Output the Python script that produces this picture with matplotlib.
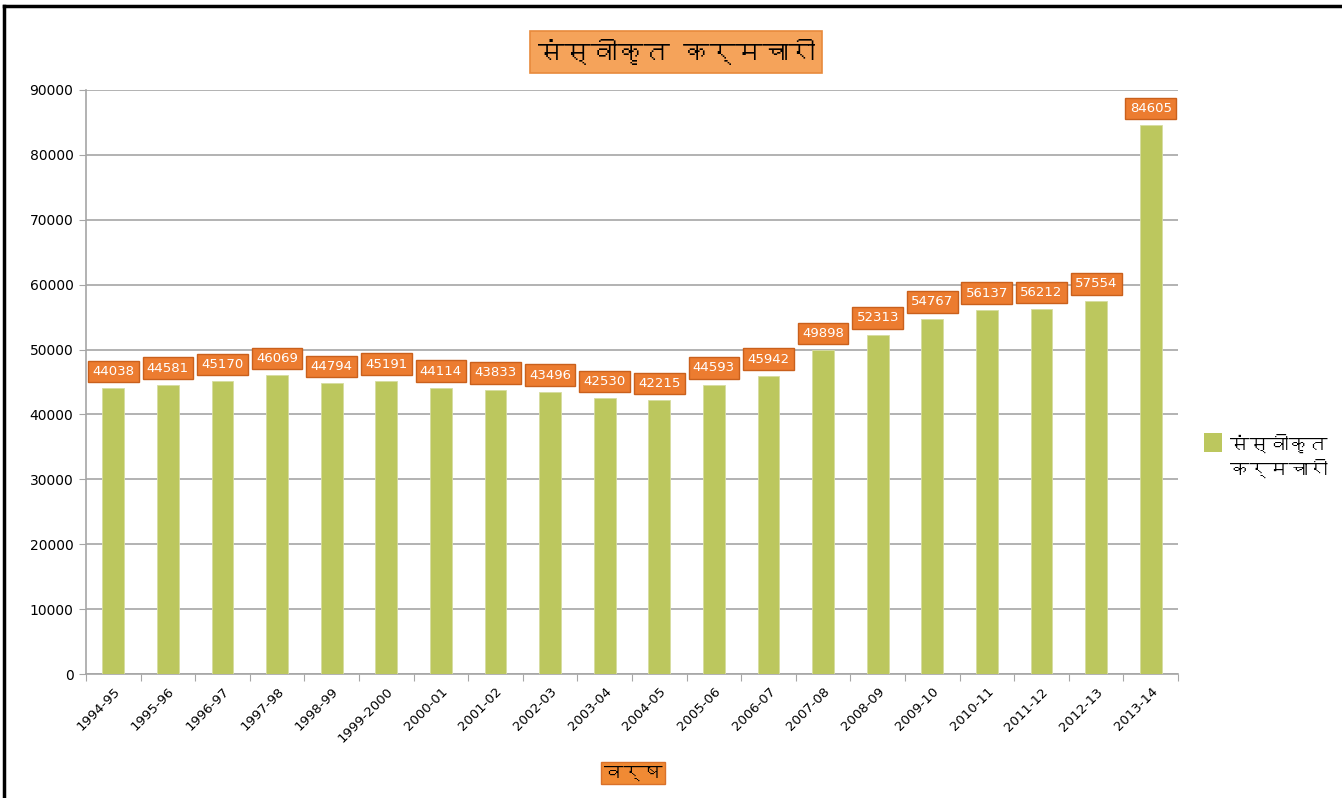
import numpy as np
import matplotlib
matplotlib.use("Agg")
import matplotlib.pyplot as plt
from matplotlib import font_manager, ft2font
from matplotlib.patches import Rectangle

years = ["1994-95", "1995-96", "1996-97", "1997-98", "1998-99", "1999-2000",
         "2000-01", "2001-02", "2002-03", "2003-04", "2004-05", "2005-06",
         "2006-07", "2007-08", "2008-09", "2009-10", "2010-11", "2011-12",
         "2012-13", "2013-14"]
employees = [44038, 44581, 45170, 46069, 44794, 45191, 44114, 43833, 43496,
             42530, 42215, 44593, 45942, 49898, 52313, 54767, 56137, 56212,
             57554, 84605]
y_ticks = [0, 10000, 20000, 30000, 40000, 50000, 60000, 70000, 80000, 90000]

title_text = "संस्वीकृत कर्मचारी"
xlabel_text = "वर्ष"
legend_text = "संस्वीकृत\nकर्मचारी"

BAR = "#BCC75E"
ORANGE = "#EC7C30"
ORANGE_EDGE = "#C9601C"
GRID = "#A6A6A6"


def find_deva():
    # pick any installed font that actually has Devanagari glyphs
    seen = set()
    for f in font_manager.fontManager.ttflist:
        if f.fname in seen:
            continue
        seen.add(f.fname)
        try:
            cm = ft2font.FT2Font(f.fname).get_charmap()
        except Exception:
            continue
        if 0x0915 in cm and 0x094D in cm:
            return f.name
    return None


deva = find_deva()
hindi_family = [deva, "DejaVu Sans"] if deva else ["DejaVu Sans"]

plt.rcParams["font.family"] = ["DejaVu Sans"]

fig = plt.figure(figsize=(13.42, 7.98), dpi=100)
ax = fig.add_axes([86 / 1342, 1 - 674 / 798, 1092 / 1342, 584 / 798])

x = np.arange(len(years))
ax.bar(x, employees, width=0.4, color=BAR, edgecolor="#D6DDA0", linewidth=0.6, zorder=3)

for xi, v in zip(x, employees):
    ax.annotate(str(v), (xi, v), xytext=(0, 12), textcoords="offset points",
                ha="center", va="center", color="white", fontsize=9.5,
                bbox=dict(boxstyle="square,pad=0.32", fc=ORANGE, ec=ORANGE_EDGE, lw=1),
                zorder=5)

ax.set_xlim(-0.5, len(years) - 0.5)
ax.set_ylim(0, 90000)
ax.set_yticks(y_ticks)
ax.set_yticklabels([str(t) for t in y_ticks], fontsize=10)
ax.set_xticks(np.arange(len(years) + 1) - 0.5, minor=False)
ax.set_xticklabels([])
ax.set_xticks(x, minor=True)
ax.set_xticklabels(years, minor=True, rotation=45, ha="right", rotation_mode="anchor", fontsize=9.5)
ax.tick_params(axis="x", which="major", length=5, color=GRID)
ax.tick_params(axis="x", which="minor", length=0, pad=8)
ax.tick_params(axis="y", length=5, color=GRID, pad=4)

ax.grid(axis="y", color=GRID, linewidth=1.2, zorder=0)
for s in ["top", "right"]:
    ax.spines[s].set_visible(False)
ax.spines["left"].set_color(GRID)
ax.spines["bottom"].set_color(GRID)
ax.spines["left"].set_linewidth(1.2)
ax.spines["bottom"].set_linewidth(1.2)

# title box
fig.text(676 / 1342, 1 - 52 / 798, title_text, ha="center", va="center",
         fontsize=19, fontweight="bold", family=hindi_family,
         bbox=dict(boxstyle="square,pad=0.3", fc="#F5A35A", ec="#E88A3C", lw=1.2))

# x axis label box
fig.text(633 / 1342, 1 - 773 / 798, xlabel_text, ha="center", va="center",
         fontsize=14, fontweight="bold", family=hindi_family,
         bbox=dict(boxstyle="square,pad=0.15", fc="#F08A34", ec="#D9712A", lw=1))

# legend
fig.patches.append(Rectangle((1204 / 1342, 1 - 452 / 798), 18 / 1342, 19 / 798,
                             transform=fig.transFigure, fc=BAR, ec="none"))
fig.text(1230 / 1342, 1 - 456 / 798, legend_text, ha="left", va="center",
         fontsize=14, family=hindi_family, linespacing=1.3)

# outer frame (left and top visible)
fig.add_artist(plt.Line2D([4 / 1342, 4 / 1342], [0, 1 - 6 / 798], transform=fig.transFigure,
                          color="black", lw=2.5))
fig.add_artist(plt.Line2D([4 / 1342, 1], [1 - 6 / 798, 1 - 6 / 798], transform=fig.transFigure,
                          color="black", lw=2.5))

fig.savefig("out.png", dpi=100)
